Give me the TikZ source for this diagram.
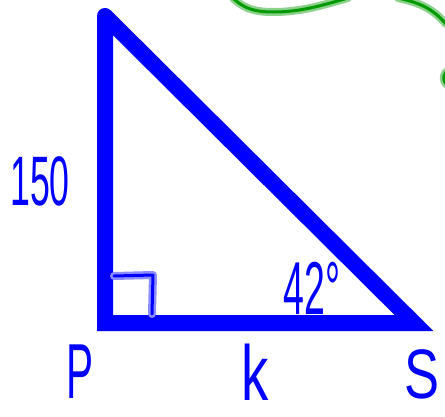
\documentclass[tikz,border=0pt]{standalone}
\usepackage{fontspec}
\setmainfont{Liberation Sans}
\begin{document}
\begin{tikzpicture}[x=1pt,y=-1pt,
  tri/.style={draw=blue, line width=16pt, line cap=round, line join=miter, miter limit=10},
  pen/.style={draw=blue, line width=3pt, line cap=round, line join=round,
    preaction={draw=blue!45, line width=8pt, line cap=round, line join=round}},
  gpen/.style={draw=green!60!black, line width=3pt, line cap=round, line join=round,
    preaction={draw=green!60!black!45, line width=8pt, line cap=round, line join=round}},
  lbl/.style={text=blue, inner sep=0pt, anchor=base}]
\useasboundingbox (0,0) rectangle (445,416);
% triangle
\coordinate (A) at (105,16);
\coordinate (P) at (105,323);
\coordinate (S) at (414,323);
\draw[tri] (A) -- (P) -- (S) -- (A);
% right angle mark
\coordinate (r1) at (114,276);
\coordinate (r2) at (153,275);
\coordinate (r3) at (152,314);
\draw[pen] (r1) -- (r2) -- (r3);
% green scribbles
\coordinate (g1) at (233,-2);
\coordinate (g2) at (273,12);
\coordinate (g3) at (348,-2);
\draw[gpen] (g1) .. controls (245,10) and (258,12) .. (g2) .. controls (300,12) and (320,6) .. (g3);
\coordinate (g4) at (398,-2);
\coordinate (g5) at (446,24);
\draw[gpen] (g4) .. controls (420,3) and (432,8) .. (g5);
\coordinate (g6) at (446,72);
\coordinate (g7) at (446,84);
\draw[gpen] (g6) .. controls (443,76) and (443,80) .. (g7);
% labels
\node[lbl, font=\fontsize{70pt}{70pt}\selectfont, xscale=0.51] (l150) at (40,205) {150};
\node[lbl, font=\fontsize{78pt}{78pt}\selectfont, xscale=0.52] (lP) at (80,398) {P};
\node[lbl, font=\fontsize{78pt}{78pt}\selectfont, xscale=0.7] (lk) at (255,400) {k};
\node[lbl, font=\fontsize{70pt}{70pt}\selectfont, xscale=0.75] (lS) at (422,398) {S};
\node[lbl, font=\fontsize{75pt}{75pt}\selectfont, xscale=0.5] (l42) at (312,314) {42°};
\end{tikzpicture}
\end{document}
